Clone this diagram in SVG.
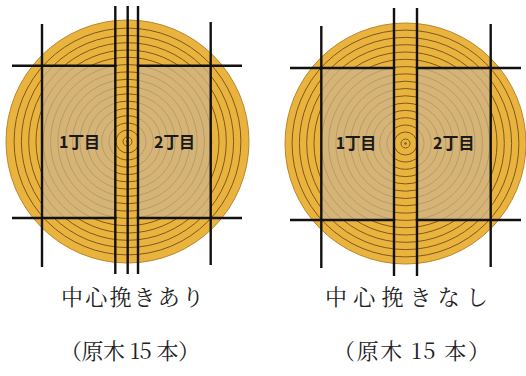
<svg xmlns="http://www.w3.org/2000/svg" xmlns:xlink="http://www.w3.org/1999/xlink" width="526" height="376" viewBox="0 0 526 376">
  <style>
    .wood { fill: #EAB33D; stroke: #B8872C; stroke-width: 1; }
    .ring { fill: none; stroke: #7A5A20; stroke-width: 1; }
    .board { fill: #CDB48C; fill-opacity: 0.72; }
    .saw { stroke: #111; stroke-width: 2.4; fill: none; stroke-linecap: butt; }
    .label { font-family: "Noto Sans CJK JP", "Noto Sans", sans-serif; font-weight: 700; font-size: 16px; fill: #1a1a1a; }
    .caption { font-family: "Noto Serif CJK JP", "Liberation Serif", "Noto Sans CJK JP", serif; font-size: 22px; fill: #222; }
  </style>
  <defs>
    <!-- growth rings of one log, centred on the origin -->
    <g id="rings">
      <circle class="ring" r="4.5"/>
      <circle class="ring" r="11.5"/>
      <circle class="ring" r="18.5"/>
      <circle class="ring" r="25.8"/>
      <circle class="ring" r="33.1"/>
      <circle class="ring" r="40.4"/>
      <circle class="ring" r="47.7"/>
      <circle class="ring" r="55"/>
      <circle class="ring" r="62.3"/>
      <circle class="ring" r="69.6"/>
      <circle class="ring" r="76.9"/>
      <circle class="ring" r="84.2"/>
      <circle class="ring" r="91.5"/>
      <circle class="ring" r="98.8"/>
      <circle class="ring" r="106.1"/>
      <circle class="ring" r="113.4"/>
    </g>
  </defs>

  <!-- log sawn with a centre cut -->
  <g id="log-center-cut">
    <circle class="wood" cx="127.5" cy="141.5" r="121.5"/>
    <use xlink:href="#rings" transform="translate(127.5 141.5)"/>
    <circle cx="127.5" cy="141.5" r="1.2" fill="#7A5A20"/>
    <rect class="board" x="42" y="65.7" width="73.3" height="152.3"/>
    <rect class="board" x="138" y="65.7" width="72.7" height="152.3"/>
  </g>

  <!-- log sawn without a centre cut -->
  <g id="log-no-center-cut">
    <circle class="wood" cx="405.5" cy="143.5" r="120.5"/>
    <use xlink:href="#rings" transform="translate(405.5 143.5)"/>
    <circle cx="405.5" cy="143.5" r="1.2" fill="#7A5A20"/>
    <rect class="board" x="321.3" y="68" width="72.7" height="152"/>
    <rect class="board" x="417" y="68" width="73.7" height="152"/>
  </g>

  <!-- saw lines -->
  <g id="saw-lines">
    <line class="saw" x1="115.3" y1="6" x2="115.3" y2="274"/>
    <line class="saw" x1="127.7" y1="6" x2="127.7" y2="274"/>
    <line class="saw" x1="138" y1="6" x2="138" y2="274"/>
    <line class="saw" x1="42" y1="24" x2="42" y2="267"/>
    <line class="saw" x1="210.7" y1="22" x2="210.7" y2="265"/>
    <line class="saw" x1="12" y1="65.7" x2="116.5" y2="65.7"/>
    <line class="saw" x1="136.8" y1="65.7" x2="242" y2="65.7"/>
    <line class="saw" x1="12" y1="218" x2="116.5" y2="218"/>
    <line class="saw" x1="136.8" y1="218" x2="242" y2="218"/>

    <line class="saw" x1="394" y1="8" x2="394" y2="276"/>
    <line class="saw" x1="417" y1="8" x2="417" y2="276"/>
    <line class="saw" x1="321.3" y1="26" x2="321.3" y2="268"/>
    <line class="saw" x1="490.7" y1="24" x2="490.7" y2="267"/>
    <line class="saw" x1="290" y1="68" x2="395.2" y2="68"/>
    <line class="saw" x1="415.8" y1="68" x2="521" y2="68"/>
    <line class="saw" x1="290" y1="220" x2="395.2" y2="220"/>
    <line class="saw" x1="415.8" y1="220" x2="521" y2="220"/>
  </g>

  <!-- board labels -->
  <g id="labels">
    <text class="label" x="59" y="147.5" textLength="41" lengthAdjust="spacing">1丁目</text>
    <text class="label" x="154" y="147.5" textLength="41" lengthAdjust="spacing">2丁目</text>
    <text class="label" x="335.7" y="149.3" textLength="40.5" lengthAdjust="spacing">1丁目</text>
    <text class="label" x="433" y="149.3" textLength="41.5" lengthAdjust="spacing">2丁目</text>
  </g>

  <!-- captions -->
  <g id="captions">
    <text class="caption" x="61" y="305" textLength="143" lengthAdjust="spacing">中心挽きあり</text>
    <text class="caption" x="60" y="359" textLength="140" lengthAdjust="spacing">（原木 15 本）</text>
    <text class="caption" x="325" y="305" textLength="163" lengthAdjust="spacing">中心挽きなし</text>
    <text class="caption" x="333" y="359" textLength="157" lengthAdjust="spacing">（原木 15 本）</text>
  </g>
</svg>
